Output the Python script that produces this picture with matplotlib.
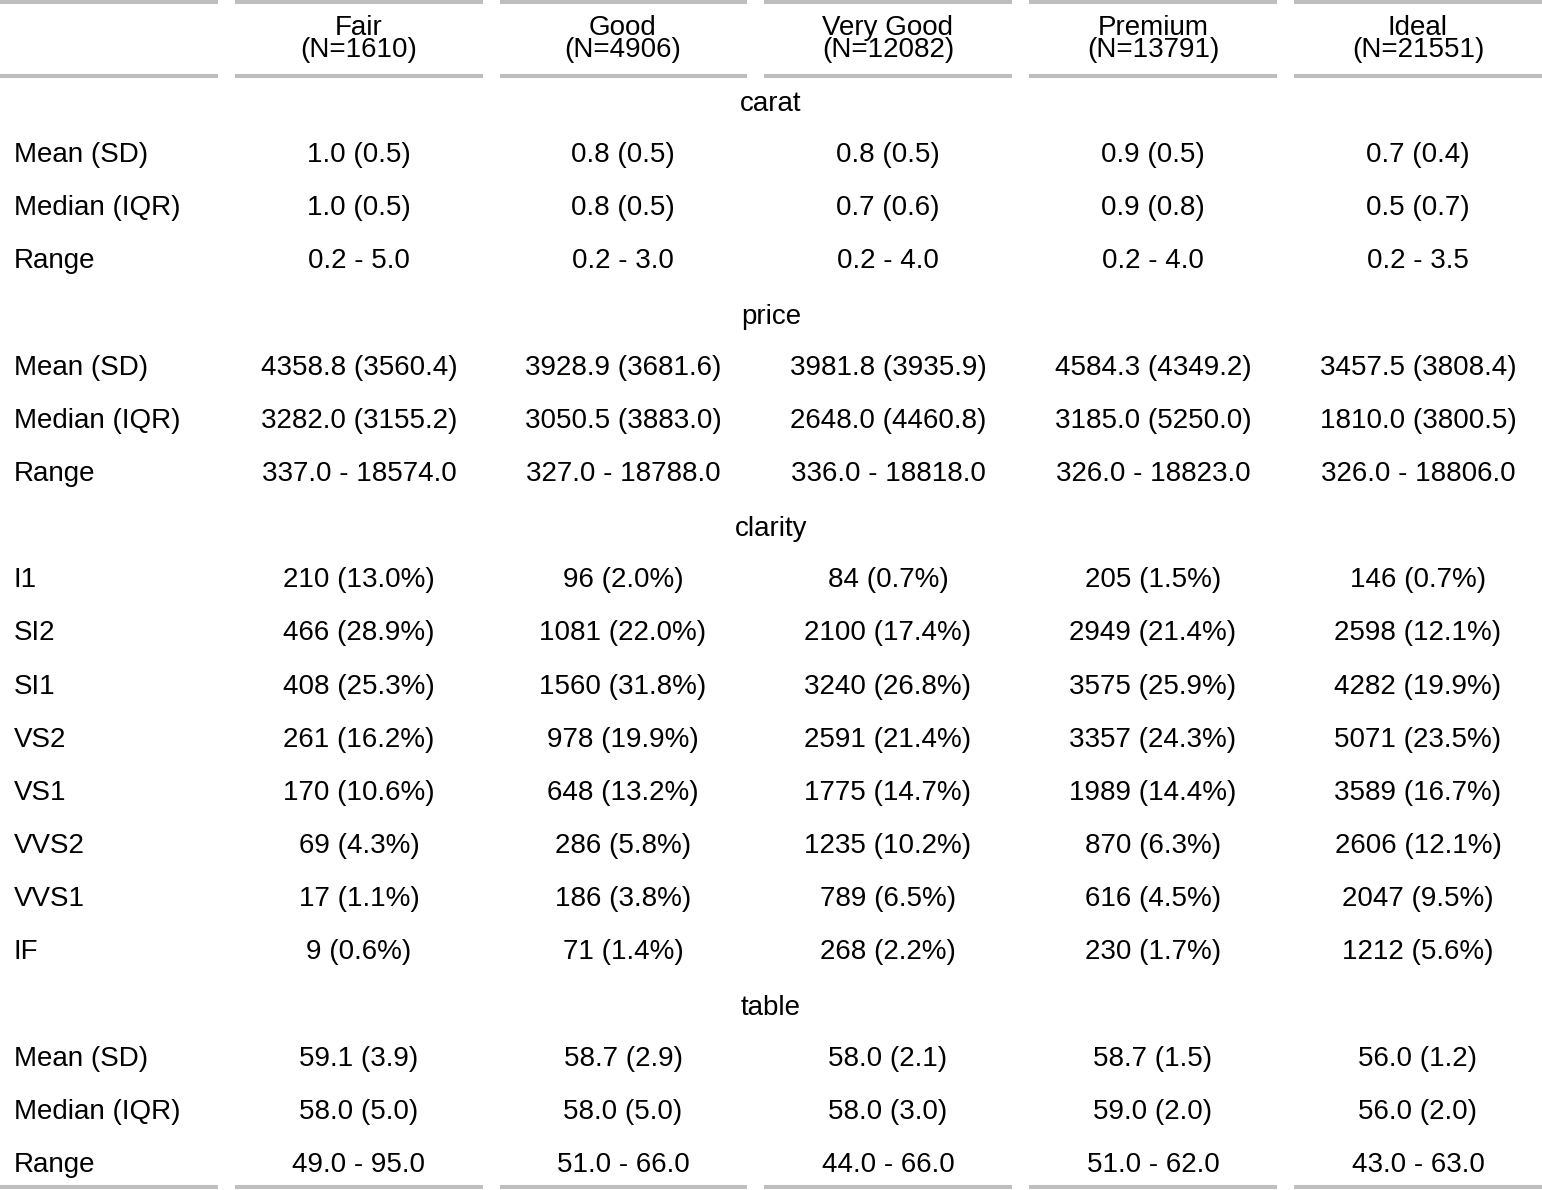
"""
    Tabla resumen de diamantes por corte
"""
import matplotlib
matplotlib.use("Agg")
import matplotlib.pyplot as plt

# Datos
cortes = ["Fair", "Good", "Very Good", "Premium", "Ideal"]
n_cortes = ["(N=1610)", "(N=4906)", "(N=12082)", "(N=13791)", "(N=21551)"]

carat_filas = ["Mean (SD)", "Median (IQR)", "Range"]
carat_vals = [
    ["1.0 (0.5)", "0.8 (0.5)", "0.8 (0.5)", "0.9 (0.5)", "0.7 (0.4)"],
    ["1.0 (0.5)", "0.8 (0.5)", "0.7 (0.6)", "0.9 (0.8)", "0.5 (0.7)"],
    ["0.2 - 5.0", "0.2 - 3.0", "0.2 - 4.0", "0.2 - 4.0", "0.2 - 3.5"],
]

price_filas = ["Mean (SD)", "Median (IQR)", "Range"]
price_vals = [
    ["4358.8 (3560.4)", "3928.9 (3681.6)", "3981.8 (3935.9)", "4584.3 (4349.2)", "3457.5 (3808.4)"],
    ["3282.0 (3155.2)", "3050.5 (3883.0)", "2648.0 (4460.8)", "3185.0 (5250.0)", "1810.0 (3800.5)"],
    ["337.0 - 18574.0", "327.0 - 18788.0", "336.0 - 18818.0", "326.0 - 18823.0", "326.0 - 18806.0"],
]

clarity_filas = ["I1", "SI2", "SI1", "VS2", "VS1", "VVS2", "VVS1", "IF"]
clarity_vals = [
    ["210 (13.0%)", "96 (2.0%)", "84 (0.7%)", "205 (1.5%)", "146 (0.7%)"],
    ["466 (28.9%)", "1081 (22.0%)", "2100 (17.4%)", "2949 (21.4%)", "2598 (12.1%)"],
    ["408 (25.3%)", "1560 (31.8%)", "3240 (26.8%)", "3575 (25.9%)", "4282 (19.9%)"],
    ["261 (16.2%)", "978 (19.9%)", "2591 (21.4%)", "3357 (24.3%)", "5071 (23.5%)"],
    ["170 (10.6%)", "648 (13.2%)", "1775 (14.7%)", "1989 (14.4%)", "3589 (16.7%)"],
    ["69 (4.3%)", "286 (5.8%)", "1235 (10.2%)", "870 (6.3%)", "2606 (12.1%)"],
    ["17 (1.1%)", "186 (3.8%)", "789 (6.5%)", "616 (4.5%)", "2047 (9.5%)"],
    ["9 (0.6%)", "71 (1.4%)", "268 (2.2%)", "230 (1.7%)", "1212 (5.6%)"],
]

table_filas = ["Mean (SD)", "Median (IQR)", "Range"]
table_vals = [
    ["59.1 (3.9)", "58.7 (2.9)", "58.0 (2.1)", "58.7 (1.5)", "56.0 (1.2)"],
    ["58.0 (5.0)", "58.0 (5.0)", "58.0 (3.0)", "59.0 (2.0)", "56.0 (2.0)"],
    ["49.0 - 95.0", "51.0 - 66.0", "44.0 - 66.0", "51.0 - 62.0", "43.0 - 63.0"],
]

secciones = [
    ("carat", carat_filas, carat_vals),
    ("price", price_filas, price_vals),
    ("clarity", clarity_filas, clarity_vals),
    ("table", table_filas, table_vals),
]

# Layout (pixeles)
W, H = 1542, 1190
fuente = "Liberation Sans"
tam = 20
gris = "#BEBEBE"
col_x = [359, 623, 888, 1153, 1418]
segmentos = [(0, 218), (235, 483), (500, 747), (764, 1012), (1029, 1277), (1294, 1542)]
y0 = 102
paso = 53.15

fig = plt.figure(figsize=(W / 100, H / 100), dpi=100)
ax = fig.add_axes([0, 0, 1, 1])
ax.set_xlim(0, W)
ax.set_ylim(H, 0)
ax.axis("off")

# lineas horizontales
for y in [2, 76, 1187]:
    for a, b in segmentos:
        ax.plot([a, b], [y, y], color=gris, lw=2.9, solid_capstyle="butt")

# encabezado (dos lineas juntas)
for x, c, n in zip(col_x, cortes, n_cortes):
    ax.text(x, 39, c + "\n" + n, ha="center", va="center", fontsize=tam,
            family=fuente, linespacing=0.82, multialignment="center")

# cuerpo
i = 0
for nombre, filas, vals in secciones:
    y = y0 + i * paso
    ax.text(771, y + 2, nombre, ha="center", va="center", fontsize=tam, family=fuente)
    i += 1
    for fila, v in zip(filas, vals):
        y = y0 + i * paso
        ax.text(14, y, fila, ha="left", va="center", fontsize=tam, family=fuente)
        for x, t in zip(col_x, v):
            ax.text(x, y, t, ha="center", va="center", fontsize=tam, family=fuente)
        i += 1

fig.savefig("out.png", dpi=100, facecolor="white")
